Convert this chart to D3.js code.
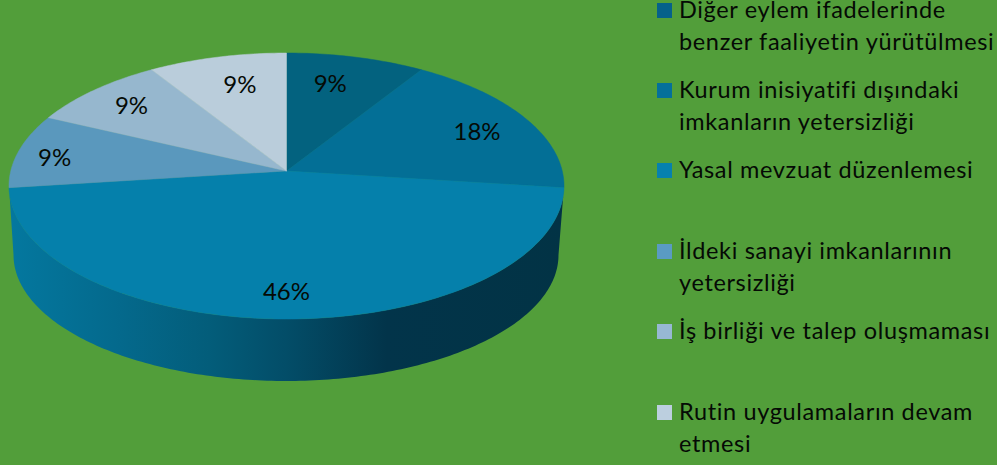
<!DOCTYPE html>
<html><head><meta charset="utf-8">
<script src="https://cdn.jsdelivr.net/npm/d3@7"></script>
<style>html,body{margin:0;padding:0;background:#529e3a;overflow:hidden}svg{display:block}text{font-family:Lato,"Open Sans",sans-serif;fill:#050a05}</style>
</head><body><svg id="c" width="997" height="465"></svg>
<script>
const categories = ["Diğer eylem ifadelerinde benzer faaliyetin yürütülmesi","Kurum inisiyatifi dışındaki imkanların yetersizliği","Yasal mevzuat düzenlemesi","İldeki sanayi imkanlarının yetersizliği","İş birliği ve talep oluşmaması","Rutin uygulamaların devam etmesi"];
const legendLines = [["Diğer eylem ifadelerinde","benzer faaliyetin yürütülmesi"],["Kurum inisiyatifi dışındaki","imkanların yetersizliği"],["Yasal mevzuat düzenlemesi"],["İldeki sanayi imkanlarının","yetersizliği"],["İş birliği ve talep oluşmaması"],["Rutin uygulamaların devam","etmesi"]];
const values = [9,18,46,9,9,9];
const colors = ["#03627f","#036f96","#0580ab","#5a98bd","#96b7ce","#bacddb"];
const legendColors = ["#05618a","#04709b","#0681ae","#5a9bc3","#97b8d3","#bccfdf"];
const labelRadius = [.74,.778,.835,.857,.794,.73];
const labelTurn = [-2.8,2,0,-2,0,1.7];
const legendY = [18,98,178,259,339,420];

const svg = d3.select("#c");
const cx=286.5, cy=186, rx=277.5, ry=133, k=.113;
const sx = d3.scaleLinear().domain([-1,1]).range([cx-rx,cx+rx]);
const sy = d3.scaleLinear().domain([-1,1]).range([cy+ry,cy-ry]);
const s = Math.sqrt(1-k*k);
const rad = a=>a*Math.PI/180;
// perspective projection of the pie disc (t clockwise from top)
function proj(t,r){const x=r*Math.sin(t),y=r*Math.cos(t),d=1+k*y;return [sx(x*s/d),sy((y+k)/d)];}
const line = d3.line();
const arcs = d3.pie().sort(null).value(d=>d)(values);

// side wall
const defs = svg.append("defs");
const grad = defs.append("linearGradient").attr("id","wall").attr("gradientUnits","userSpaceOnUse").attr("x1",9).attr("x2",564).attr("y1",0).attr("y2",0);
[[0,"#04789f"],[.2,"#04698c"],[.36,"#035d7a"],[.5,"#034d68"],[.68,"#02344a"],[1,"#023345"]].forEach(p=>grad.append("stop").attr("offset",p[0]).attr("stop-color",p[1]));
const bcx=286, bcy=255, brx=272.5, bry=126;
const a0 = Math.acos(-k)*180/Math.PI;
const topEdge = d3.range(a0,360-a0+.01,1).map(a=>proj(rad(a),1));
const bottom = d3.range(270,89.99,-1).map(a=>[bcx+brx*Math.sin(rad(a)),bcy-bry*Math.cos(rad(a))]);
svg.append("path").attr("d",line(topEdge.concat(bottom))+"Z").attr("fill","url(#wall)");

// top face
svg.append("g").selectAll("path").data(arcs).join("path")
 .attr("d",d=>{const n=Math.max(2,Math.ceil((d.endAngle-d.startAngle)*60));
   const pts=d3.range(n+1).map(i=>proj(d.startAngle+(d.endAngle-d.startAngle)*i/n,1));
   return line([proj(0,0),...pts])+"Z";})
 .attr("fill",(d,i)=>colors[i]).attr("stroke",(d,i)=>colors[i]).attr("stroke-width",.5);

// labels
const lp = (d,i)=>proj((d.startAngle+d.endAngle)/2+rad(labelTurn[i]),labelRadius[i]);
svg.append("g").selectAll("text").data(arcs).join("text")
 .attr("x",(d,i)=>lp(d,i)[0]).attr("y",(d,i)=>lp(d,i)[1])
 .attr("dy",".35em").attr("text-anchor","middle").attr("font-size",24)
 .text(d=>d.value+"%");

// legend
const lg = svg.append("g").selectAll("g").data(categories).join("g").attr("transform",(d,i)=>`translate(657,${legendY[i]})`);
lg.append("rect").attr("y",-15).attr("width",15).attr("height",15).attr("fill",(d,i)=>legendColors[i]);
lg.selectAll("text").data((d,i)=>legendLines[i]).join("text").attr("x",22).attr("y",(d,j)=>j*32).attr("font-size",23.5).attr("letter-spacing",".65").text(d=>d);
</script></body></html>
